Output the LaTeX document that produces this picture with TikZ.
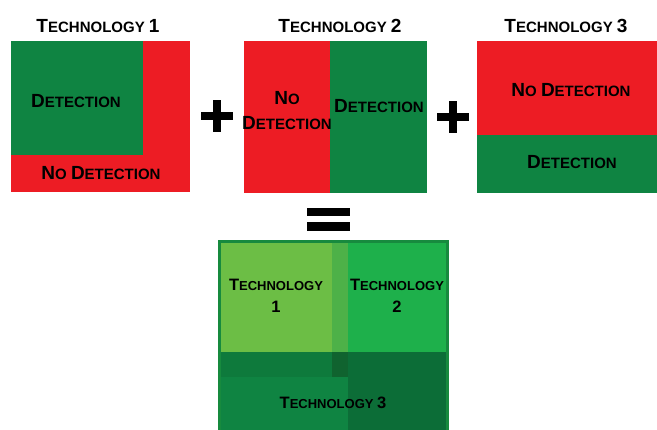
\documentclass[tikz,border=0pt]{standalone}
\usepackage{fontspec}
\setmainfont{Liberation Sans}
\usepackage{xcolor}
\usetikzlibrary{positioning}

\definecolor{nored}{HTML}{ED1C24}
\definecolor{detgreen}{HTML}{0F8442}
\definecolor{lightgreen}{HTML}{6CBE45}
\definecolor{midgreen}{HTML}{4DB148}
\definecolor{brightgreen}{HTML}{1EB04B}
\definecolor{rimgreen}{HTML}{178A3E}
\definecolor{deepgreen}{HTML}{0E7A3C}
\definecolor{darkgreen}{HTML}{0C6D37}
\definecolor{darkestgreen}{HTML}{10632F}

% fake small caps: big first letter, smaller rest
\newcommand{\capbig}{19}
\newcommand{\capsmall}{15}
\newcommand{\capword}[2]{{\fontsize{\capbig}{\capbig}\selectfont #1}{\fontsize{\capsmall}{\capsmall}\selectfont #2}}

\tikzset{
  label/.style={font={\bfseries\fontsize{\capsmall}{\capsmall}\selectfont}, inner sep=0pt, align=center},
  sumlabel/.style={label, font={\bfseries\def\capbig{16.5}\def\capsmall{13}\fontsize{13}{13}\selectfont}},
}

\begin{document}
\begin{tikzpicture}[x=1pt,y=-1pt]
\useasboundingbox (0,0) rectangle (657,430);

% technology 1
\fill[nored] (11,41) rectangle (190,192);
\fill[detgreen] (11,41) rectangle (143,155);
\node[label] (tone) at (98,26) {\capword{T}{ECHNOLOGY} \capword{1}{}};
\node[label] (done) at (76,101) {\capword{D}{ETECTION}};
\node[label] (none) at (101,173) {\capword{N}{O} \capword{D}{ETECTION}};

% plus
\fill (201,112) rectangle (233,120);
\fill (213,100) rectangle (221,132);

% technology 2
\fill[nored] (244,41) rectangle (330,193);
\fill[detgreen] (330,41) rectangle (427,193);
\node[label] (ttwo) at (340,26) {\capword{T}{ECHNOLOGY} \capword{2}{}};
\node[label] (ntwo) at (287,98) {\capword{N}{O}};
\node[label] (ntwob) at (287,123) {\capword{D}{ETECTION}};
\node[label] (dtwo) at (379,106) {\capword{D}{ETECTION}};

% plus
\fill (437,113) rectangle (469,121);
\fill (449,101) rectangle (457,133);

% technology 3
\fill[nored] (477,41) rectangle (657,135);
\fill[detgreen] (477,135) rectangle (657,193);
\node[label] (tthree) at (566,26) {\capword{T}{ECHNOLOGY} \capword{3}{}};
\node[label] (nthree) at (571,90) {\capword{N}{O} \capword{D}{ETECTION}};
\node[label] (dthree) at (572,162) {\capword{D}{ETECTION}};

% equals
\fill (307,208) rectangle (350,216);
\fill (307,222) rectangle (350,231);

% combined coverage
\fill[rimgreen] (218,240) rectangle (449,430);
\fill[lightgreen] (221,243) rectangle (332,352);
\fill[midgreen] (332,243) rectangle (348,352);
\fill[brightgreen] (348,243) rectangle (446,352);
\fill[deepgreen] (221,352) rectangle (332,377);
\fill[darkestgreen] (332,352) rectangle (348,377);
\fill[detgreen] (221,377) rectangle (348,430);
\fill[darkgreen] (348,352) rectangle (446,430);
\node[sumlabel] (sone) at (276,285) {\capword{T}{ECHNOLOGY}};
\node[sumlabel] (soneb) at (276,307) {\capword{1}{}};
\node[sumlabel] (stwo) at (397,285) {\capword{T}{ECHNOLOGY}};
\node[sumlabel] (stwob) at (397,307) {\capword{2}{}};
\node[sumlabel] (sthree) at (333,403) {\capword{T}{ECHNOLOGY} \capword{3}{}};
\end{tikzpicture}
\end{document}
